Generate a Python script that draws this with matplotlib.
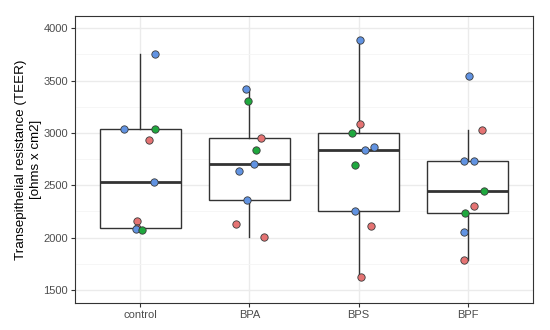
import numpy as np
import matplotlib
matplotlib.use("Agg")
import matplotlib.pyplot as plt
from matplotlib.ticker import MultipleLocator

plt.rcParams['font.family'] = ['Liberation Sans', 'DejaVu Sans']

groups = ["control", "BPA", "BPS", "BPF"]

# TEER values per group
control = [3754, 3035, 3040, 2936, 2534, 2162, 2095, 2080, 2070]
bpa = [3420, 3302, 2952, 2840, 2703, 2640, 2360, 2133, 2006]
bps = [3888, 3085, 2997, 2866, 2837, 2694, 2255, 2114, 1621]
bpf = [3541, 3031, 2735, 2735, 2449, 2302, 2232, 2054, 1784]

# replicate (point colour) of each value
control_rep = ["b", "b", "g", "r", "b", "r", "r", "b", "g"]
bpa_rep = ["b", "g", "r", "g", "b", "b", "b", "r", "r"]
bps_rep = ["b", "r", "g", "b", "b", "g", "b", "r", "r"]
bpf_rep = ["b", "r", "b", "b", "g", "r", "g", "b", "r"]

# horizontal jitter of each point, as seen in the picture
control_jit = [0.13, -0.15, 0.13, 0.08, 0.12, -0.03, -0.03, -0.04, 0.01]
bpa_jit = [-0.03, -0.01, 0.11, 0.06, 0.04, -0.10, -0.02, -0.12, 0.13]
bps_jit = [0.01, 0.01, -0.06, 0.14, 0.06, -0.03, -0.03, 0.11, 0.02]
bpf_jit = [0.01, 0.13, -0.03, 0.06, 0.15, 0.06, -0.02, -0.03, -0.03]

values = [control, bpa, bps, bpf]
reps = [control_rep, bpa_rep, bps_rep, bpf_rep]
jits = [control_jit, bpa_jit, bps_jit, bpf_jit]

colors = {"r": "#E57373", "g": "#1FA83E", "b": "#6193E2"}

fig = plt.figure(figsize=(5.5, 3.3), dpi=100)
ax = fig.add_axes([75 / 550, 1 - 302.7 / 330, 458 / 550, (302.7 - 16) / 330])

pos = np.arange(1, len(groups) + 1)
ax.boxplot(values, positions=pos, widths=0.75, whis=1.5, showfliers=False,
           showcaps=False, patch_artist=True, zorder=2,
           boxprops=dict(facecolor="white", edgecolor="#333333", linewidth=1.0),
           whiskerprops=dict(color="#333333", linewidth=1.0),
           medianprops=dict(color="#333333", linewidth=2.0))

# jittered points on top of the boxes
for i, (vals, rp, jt) in enumerate(zip(values, reps, jits)):
    for v, r, j in zip(vals, rp, jt):
        ax.scatter(pos[i] + j, v, s=28, color=colors[r], edgecolor="#3a3a3a",
                   linewidth=0.6, zorder=3)

ax.set_xlim(0.4, 4.6)
ax.set_ylim(1379, 4117)
ax.set_xticks(pos)
ax.set_xticklabels(groups)
ax.yaxis.set_major_locator(MultipleLocator(500))
ax.yaxis.set_minor_locator(MultipleLocator(250))

ax.grid(which="major", color="#EBEBEB", linewidth=1.0, zorder=0)
ax.grid(which="minor", axis="y", color="#F5F5F5", linewidth=0.6, zorder=0)
ax.set_axisbelow(True)

for sp in ax.spines.values():
    sp.set_color("#333333")
    sp.set_linewidth(0.8)

ax.tick_params(axis="both", which="major", length=3, width=0.8, color="#333333",
               labelcolor="#4D4D4D", labelsize=8, pad=2)
ax.tick_params(axis="y", which="minor", length=0)

ax.set_ylabel("Transepithelial resistance (TEER)\n[ohms x cm2]", fontsize=9.6,
              color="black", linespacing=1.25, va="center", ha="center")
ax.yaxis.set_label_coords((28.5 - 75) / 458, 0.5)

fig.savefig("out.png", dpi=100)
